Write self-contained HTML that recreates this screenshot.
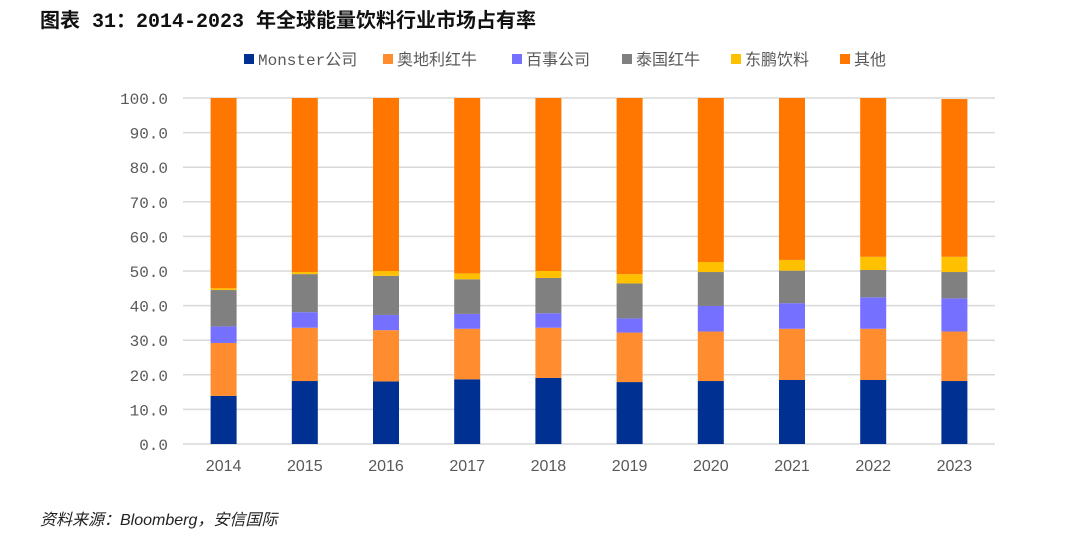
<!DOCTYPE html>
<html><head><meta charset="utf-8">
<style>
body{margin:0;background:#fff;width:1080px;height:537px;overflow:hidden;font-family:"Liberation Sans","Noto Sans CJK SC",sans-serif;}
#title{position:absolute;left:40px;top:4px;font-size:20px;font-weight:bold;color:#111;font-family:"Liberation Mono","Noto Sans CJK SC",monospace;}
#source{position:absolute;left:40px;top:506px;font-size:16px;font-style:italic;color:#222;}
svg{position:absolute;left:0;top:0}
</style></head><body>
<div id="title">图表 31：2014-2023 年全球能量饮料行业市场占有率</div>
<svg id="chart" width="1080" height="537"></svg>
<div id="source">资料来源：Bloomberg，安信国际</div>
<script>
const categories=["2014","2015","2016","2017","2018","2019","2020","2021","2022","2023"];
const seriesNames=["Monster公司","奥地利红牛","百事公司","泰国红牛","东鹏饮料","其他"];
const monster=[13.9,18.2,18.1,18.7,19.1,17.9,18.2,18.5,18.5,18.2];
const redbullAT=[15.3,15.4,14.8,14.6,14.5,14.3,14.3,14.8,14.8,14.3];
const pepsi=[4.8,4.5,4.4,4.3,4.2,4.1,7.4,7.4,9.1,9.6];
const redbullTH=[10.5,11.0,11.3,10.0,10.2,10.1,9.8,9.4,7.9,7.6];
const dongpeng=[0.5,0.6,1.4,1.7,2.0,2.7,2.9,3.1,3.8,4.4];
const others=[55.0,50.3,50.0,50.7,50.0,50.9,47.4,46.8,45.9,45.6];
const yTicks=["0.0","10.0","20.0","30.0","40.0","50.0","60.0","70.0","80.0","90.0","100.0"];
const colors=["#003092","#FF8C2E","#7570FF","#808080","#FFC000","#FF7700"];
const series=[monster,redbullAT,pepsi,redbullTH,dongpeng,others];
const ns="http://www.w3.org/2000/svg";
const svg=document.getElementById("chart");
const x0=183,x1=995,yBase=444,yTop=98;
const y=v=>yBase-(v/100)*(yBase-yTop);
const step=(x1-x0)/categories.length;
const xc=i=>x0+step*(i+0.5);
const bw=26;
function mk(t,a){const e=document.createElementNS(ns,t);for(const k in a)e.setAttribute(k,a[k]);svg.appendChild(e);return e;}
yTicks.forEach((t,i)=>{
  const v=parseFloat(t);
  const g=mk("line",{x1:x0,x2:x1,y1:y(v),y2:y(v),stroke:"#d9d9d9","stroke-width":1.5});
  
  
  const tx=mk("text",{x:168,y:y(v)+6,"text-anchor":"end","font-size":16,fill:"#595959","font-family":"Liberation Mono, monospace"});
  tx.textContent=t;
  
  
});
categories.forEach((c,i)=>{
  let acc=0;
  series.forEach((s,j)=>{
    const v=s[i];
    const r=mk("rect",{x:xc(i)-bw/2,y:y(acc+v),width:bw,height:y(acc)-y(acc+v),fill:colors[j]});
    
    
    acc+=v;
  });
  const tx=mk("text",{x:xc(i),y:471,"text-anchor":"middle","font-size":16,fill:"#595959"});
  tx.textContent=c;
  
  
});
const legX=[244,383,512,622,731,840];
seriesNames.forEach((n,j)=>{
  const r=mk("rect",{x:legX[j],y:54,width:10,height:10,fill:colors[j]});
  
  
  const t=mk("text",{x:legX[j]+14,y:65,"font-size":16,fill:"#595959","font-family":"Liberation Mono, Noto Sans CJK SC, monospace"});
  t.textContent=n;
  
  
});
</script>
</body></html>
